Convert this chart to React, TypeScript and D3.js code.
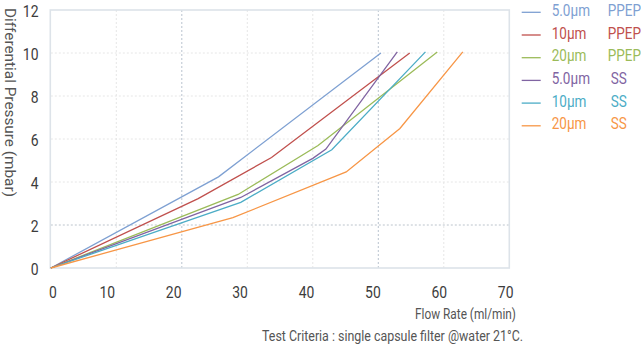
import React from "react";
import * as d3 from "d3";

const xTicks = [0, 10, 20, 30, 40, 50, 60, 70];
const yTicks = [0, 2, 4, 6, 8, 10, 12];
const seriesNames = ["5.0µm", "10µm", "20µm", "5.0µm", "10µm", "20µm"];
const seriesMaterials = ["PPEP", "PPEP", "PPEP", "SS", "SS", "SS"];
const seriesColors = ["#7ea0d2", "#c0504d", "#9bbb59", "#8064a2", "#4bacc6", "#f79646"];

const ppep5Flow = [0, 25.6, 50.4];
const ppep5DP = [0, 4.24, 10.0];
const ppep10Flow = [0, 22.5, 33.7, 54.8];
const ppep10DP = [0, 3.23, 5.14, 10.0];
const ppep20Flow = [0, 28.6, 40.8, 59.0];
const ppep20DP = [0, 3.42, 5.7, 10.05];
const ss5Flow = [0, 29, 40, 42, 52.9];
const ss5DP = [0, 3.28, 5.1, 5.53, 10.05];
const ss10Flow = [0, 29, 42.9, 57.2];
const ss10DP = [0, 3.05, 5.5, 10.05];
const ss20Flow = [0, 27.8, 45.1, 53.3, 62.9];
const ss20DP = [0, 2.34, 4.47, 6.49, 10.05];

const flows = [ppep5Flow, ppep10Flow, ppep20Flow, ss5Flow, ss10Flow, ss20Flow];
const dps = [ppep5DP, ppep10DP, ppep20DP, ss5DP, ss10DP, ss20DP];

const highlightX = [20, 50];
const highlightY = [2];

export default function App() {
  const x = d3.scaleLinear().domain([0, 70]).range([50.8, 509.3]);
  const y = d3.scaleLinear().domain([0, 12]).range([268, 10]);
  const line = d3
    .line<[number, number]>()
    .x((d) => x(d[0]))
    .y((d) => y(d[1]));

  const font = "Roboto, 'Liberation Sans', sans-serif";

  return (
    <svg
      width={641}
      height={345}
      style={{ position: "absolute", left: 0, top: 0, background: "#fff" }}
    >
      {/* grid */}
      {xTicks.slice(1, -1).map((t) => (
        <line
          key={"gx" + t}
          x1={x(t)}
          x2={x(t)}
          y1={y(12)}
          y2={y(0)}
          stroke={highlightX.includes(t) ? "#b9c4cf" : "#e6e6e6"}
          strokeWidth={1}
          strokeDasharray="2,2"
        />
      ))}
      {yTicks.slice(1, -1).map((t) => (
        <line
          key={"gy" + t}
          x1={x(0)}
          x2={x(70)}
          y1={y(t)}
          y2={y(t)}
          stroke={highlightY.includes(t) ? "#bcc4cc" : "#e6e6e6"}
          strokeWidth={1}
          strokeDasharray="2,2"
        />
      ))}
      {/* frame */}
      <rect
        x={x(0) - 0.5}
        y={y(12)}
        width={x(70) - x(0) + 0.5}
        height={y(0) - y(12)}
        fill="none"
        stroke="#dde3e9"
        strokeWidth={1.6}
      />
      {/* series */}
      {flows.map((f, i) => (
        <path
          key={"s" + i}
          d={line(f.map((v, j) => [v, dps[i][j]] as [number, number])) || ""}
          fill="none"
          stroke={seriesColors[i]}
          strokeWidth={1.3}
        />
      ))}
      {/* y ticks */}
      {yTicks.map((t) => (
        <text
          key={"yt" + t}
          transform={`translate(38.5,${y(t) + 6.5}) scale(0.82,1)`}
          textAnchor="end"
          fontFamily={font}
          fontSize={17}
          fill="#3c3c3c"
        >
          {t}
        </text>
      ))}
      {/* x ticks */}
      {xTicks.map((t) => (
        <text
          key={"xt" + t}
          transform={`translate(${t === 0 ? x(t) + 2 : x(t) - 9 + (t - 10) * 0.09},298.3) scale(0.82,1)`}
          textAnchor="middle"
          fontFamily={font}
          fontSize={17}
          fill="#3c3c3c"
        >
          {t}
        </text>
      ))}
      {/* axis titles */}
      <text
        transform="translate(4.5,8) rotate(90)"
        fontFamily={font}
        fontSize={15.5}
        fill="#555"
        textLength={189}
        lengthAdjust="spacingAndGlyphs"
      >
        Differential Pressure (mbar)
      </text>
      <text
        x={415}
        y={319.3}
        fontFamily={font}
        fontSize={15.5}
        fill="#555"
        textLength={101}
        lengthAdjust="spacingAndGlyphs"
      >
        Flow Rate (ml/min)
      </text>
      <text
        x={262}
        y={340.5}
        fontFamily={font}
        fontSize={15.5}
        fill="#555"
        textLength={261}
        lengthAdjust="spacingAndGlyphs"
      >
        Test Criteria : single capsule filter @water 21°C.
      </text>
      {/* legend */}
      {seriesNames.map((n, i) => {
        const ly = 12.3 + i * 22.7;
        return (
          <g key={"lg" + i}>
            <line
              x1={521.7}
              x2={540.7}
              y1={ly}
              y2={ly}
              stroke={seriesColors[i]}
              strokeWidth={1.3}
            />
            <text
              transform={`translate(551.7,${ly + 3.5}) scale(0.82,1)`}
              fontFamily={font}
              fontSize={16.5}
              fill={seriesColors[i]}
            >
              {n}
            </text>
            <text
              transform={`translate(${seriesMaterials[i] === "SS" ? 610.7 : 607.7},${ly + 3.5}) scale(0.82,1)`}
              fontFamily={font}
              fontSize={16.5}
              fill={seriesColors[i]}
            >
              {seriesMaterials[i]}
            </text>
          </g>
        );
      })}
    </svg>
  );
}
